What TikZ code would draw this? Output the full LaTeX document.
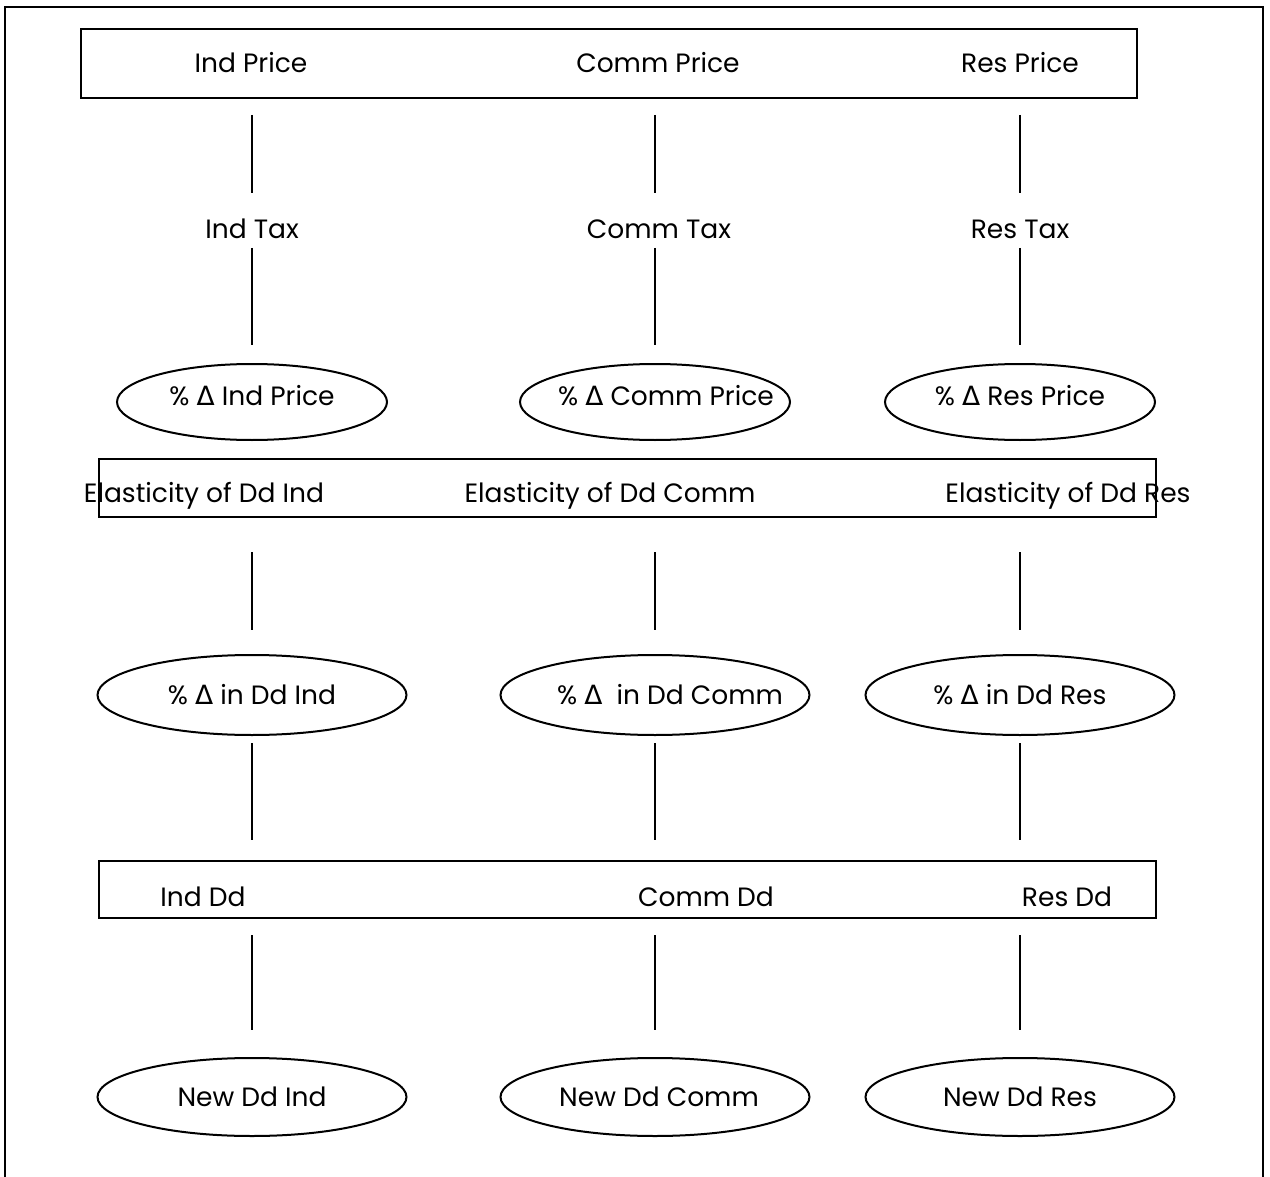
\documentclass[tikz,border=0pt]{standalone}
\usepackage{fontspec}
\setmainfont{Poppins}
\newfontfamily\symf{DejaVu Sans}
\usetikzlibrary{shapes.geometric}
\newcommand{\dlt}{{\symf Δ}}
\begin{document}
\begin{tikzpicture}[x=1pt,y=-1pt,
  frame/.style={draw,line width=2pt},
  box/.style={draw,line width=2pt,rectangle,inner sep=0pt,anchor=north west},
  oval/.style={draw,line width=2pt,ellipse,inner sep=0pt,minimum width=270pt,minimum height=76pt},
  wideoval/.style={oval,minimum width=309pt,minimum height=80pt},
  lbl/.style={font=\fontsize{26.5}{30}\selectfont,inner sep=0pt},
  conn/.style={line width=2pt}]
\useasboundingbox (0,0) rectangle (1270,1177);
\fill[white] (0,0) rectangle (1270,1177);
% outer frame
\draw[frame] (5,1177) -- (5,7) -- (1263,7) -- (1263,1177);
% row 1: prices
\node[box,minimum width=1056pt,minimum height=69pt] (pricebox) at (80,28) {};
\node[lbl] (indp) at (251,63) {Ind Price};
\node[lbl] (commp) at (658,63) {Comm Price};
\node[lbl] (resp) at (1020,63) {Res Price};
% row 2: taxes
\node[lbl] (indt) at (252,229) {Ind Tax};
\node[lbl] (commt) at (659,229) {Comm Tax};
\node[lbl] (rest) at (1020,229) {Res Tax};
% row 3: % change price
\node[oval] (indpc) at (252,402) {};
\node[oval] (commpc) at (655,402) {};
\node[oval] (respc) at (1020,402) {};
\node[lbl] (indpct) at (252,396) {\% \dlt{} Ind Price};
\node[lbl] (commpct) at (666,396) {\% \dlt{} Comm Price};
\node[lbl] (respct) at (1020,396) {\% \dlt{} Res Price};
% row 4: elasticity
\node[box,minimum width=1057pt,minimum height=58pt] (elbox) at (98,458) {};
\node[lbl] (indel) at (204,496) {Elasticity of Dd Ind};
\node[lbl] (commel) at (610,496) {Elasticity of Dd Comm};
\node[lbl] (resel) at (1068,496) {Elasticity of Dd Res};
% row 5: % change in demand
\node[wideoval] (inddc) at (252,695) {};
\node[wideoval] (commdc) at (655,695) {};
\node[wideoval] (resdc) at (1020,695) {};
\node[lbl] (inddct) at (252,695) {\% \dlt{} in Dd Ind};
\node[lbl] (commdct) at (670,695) {\% \dlt{}\ \ in Dd Comm};
\node[lbl] (resdct) at (1020,695) {\% \dlt{} in Dd Res};
% row 6: demand
\node[box,minimum width=1057pt,minimum height=57pt] (ddbox) at (98,860) {};
\node[lbl] (inddd) at (203,897) {Ind Dd};
\node[lbl] (commdd) at (706,897) {Comm Dd};
\node[lbl] (resdd) at (1067,897) {Res Dd};
% row 7: new demand
\node[wideoval,minimum height=78pt] (indnew) at (252,1097) {};
\node[wideoval,minimum height=78pt] (commnew) at (655,1097) {};
\node[wideoval,minimum height=78pt] (resnew) at (1020,1097) {};
\node[lbl] (indnewt) at (252,1097) {New Dd Ind};
\node[lbl] (commnewt) at (659,1097) {New Dd Comm};
\node[lbl] (resnewt) at (1020,1097) {New Dd Res};
% connector end points
\foreach \c/\x in {i/252,c/655,r/1020}{
  \coordinate (a\c1) at (\x,115); \coordinate (b\c1) at (\x,193);
  \coordinate (a\c2) at (\x,248); \coordinate (b\c2) at (\x,345);
  \coordinate (a\c3) at (\x,552); \coordinate (b\c3) at (\x,630);
  \coordinate (a\c4) at (\x,743); \coordinate (b\c4) at (\x,840);
  \coordinate (a\c5) at (\x,935); \coordinate (b\c5) at (\x,1030);
}
\foreach \c in {i,c,r}{
  \foreach \k in {1,...,5}{
    \draw[conn] (a\c\k) -- (b\c\k);
  }
}
\end{tikzpicture}
\end{document}
